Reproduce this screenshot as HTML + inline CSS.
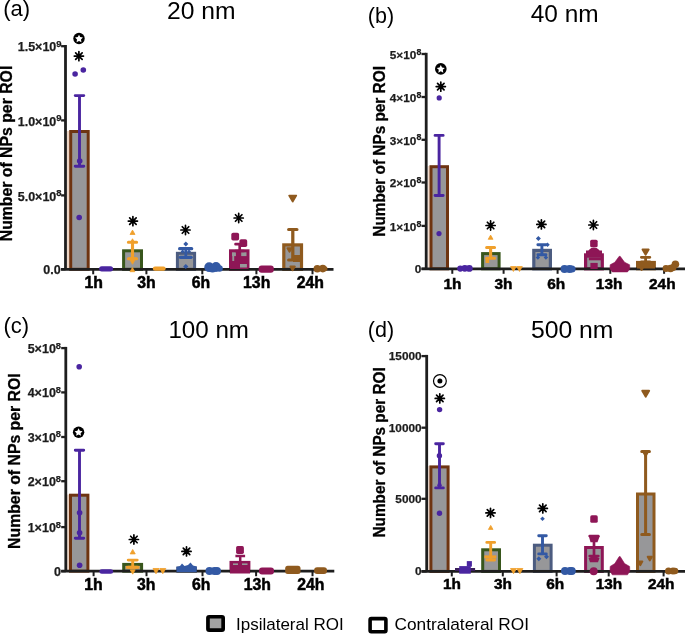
<!DOCTYPE html>
<html><head><meta charset="utf-8"><style>
html,body{margin:0;padding:0;background:#fff;}
svg{display:block;font-family:"Liberation Sans",sans-serif;filter:blur(0.3px);}
</style></head><body>
<svg width="685" height="634" viewBox="0 0 685 634">
<rect x="67.10" y="131.00" width="2.20" height="137.00" fill="#ecd3c2"/>
<rect x="70.70" y="131.50" width="17.50" height="137.80" fill="#979799" stroke="#6e3411" stroke-width="3.0"/>
<rect x="123.60" y="250.80" width="17.90" height="18.50" fill="#979799" stroke="#38561c" stroke-width="3.0"/>
<rect x="177.40" y="253.30" width="17.20" height="16.00" fill="#979799" stroke="#4c5c80" stroke-width="3.0"/>
<rect x="230.50" y="250.80" width="17.50" height="18.50" fill="#979799" stroke="#8e1656" stroke-width="3.0"/>
<rect x="283.80" y="244.90" width="17.70" height="24.40" fill="#979799" stroke="#8f5a1e" stroke-width="3.2"/>
<rect x="427.70" y="166.00" width="1.90" height="102.00" fill="#f3dccd"/>
<rect x="431.00" y="166.70" width="16.50" height="102.10" fill="#979799" stroke="#6e3411" stroke-width="3.0"/>
<rect x="482.60" y="253.60" width="16.50" height="15.20" fill="#979799" stroke="#38561c" stroke-width="3.0"/>
<rect x="533.80" y="250.40" width="16.60" height="18.40" fill="#979799" stroke="#4c5c80" stroke-width="3.2"/>
<rect x="585.60" y="254.90" width="16.70" height="13.90" fill="#979799" stroke="#8e1656" stroke-width="3.2"/>
<rect x="637.50" y="262.40" width="16.90" height="6.40" fill="#979799" stroke="#8f5a1e" stroke-width="3.0"/>
<rect x="67.20" y="494.50" width="1.90" height="75.50" fill="#ecd3c2"/>
<rect x="70.50" y="495.20" width="17.40" height="76.00" fill="#979799" stroke="#6e3411" stroke-width="3.0"/>
<rect x="123.70" y="564.40" width="17.90" height="6.80" fill="#979799" stroke="#38561c" stroke-width="3.0"/>
<rect x="177.80" y="568.00" width="17.60" height="3.20" fill="#979799" stroke="#4c5c80" stroke-width="3.0"/>
<rect x="231.00" y="562.40" width="17.90" height="8.80" fill="#979799" stroke="#8e1656" stroke-width="3.0"/>
<rect x="428.10" y="466.00" width="1.40" height="104.00" fill="#f3dccd"/>
<rect x="430.90" y="466.90" width="17.20" height="104.50" fill="#979799" stroke="#6e3411" stroke-width="3.0"/>
<rect x="482.70" y="549.80" width="16.80" height="21.60" fill="#979799" stroke="#38561c" stroke-width="3.0"/>
<rect x="534.40" y="545.20" width="16.70" height="26.20" fill="#979799" stroke="#4c5c80" stroke-width="3.0"/>
<rect x="585.60" y="547.50" width="16.70" height="23.90" fill="#979799" stroke="#8e1656" stroke-width="3.0"/>
<rect x="637.50" y="494.00" width="16.50" height="77.40" fill="#979799" stroke="#8f5a1e" stroke-width="3.0"/>
<path d="M65.50 45.00V269.30" stroke="#1e1e1e" stroke-width="2.8"/>
<path d="M61.10 269.30H333.50" stroke="#1e1e1e" stroke-width="2.7"/>
<path d="M426.20 52.80V268.80" stroke="#1e1e1e" stroke-width="2.8"/>
<path d="M421.50 268.80H685.00" stroke="#1e1e1e" stroke-width="2.7"/>
<path d="M65.80 346.90V571.20" stroke="#1e1e1e" stroke-width="2.8"/>
<path d="M61.20 571.20H334.30" stroke="#1e1e1e" stroke-width="2.7"/>
<path d="M426.70 354.90V571.40" stroke="#1e1e1e" stroke-width="2.8"/>
<path d="M421.50 571.40H685.00" stroke="#1e1e1e" stroke-width="2.7"/>
<text x="3.20" y="16.20" font-size="22" font-weight="normal" text-anchor="start" >(a)</text>
<text x="201.30" y="18.90" font-size="23.5" font-weight="normal" text-anchor="middle"  textLength="68.6" lengthAdjust="spacingAndGlyphs">20 nm</text>
<text transform="translate(11.80,153.50) rotate(-90)" x="0" y="0" font-size="15.8" font-weight="bold" text-anchor="middle" stroke="#000" stroke-width="0.3">Number of NPs per ROI</text>
<path d="M61.10 46.20H65.50" stroke="#1e1e1e" stroke-width="2.3"/>
<text x="61.60" y="51.30" font-size="12.5" font-weight="bold" text-anchor="end" fill="#1c1c1c" stroke="#1c1c1c" stroke-width="0.25">1.5×10<tspan dy="-4.6" font-size="9.5">9</tspan></text>
<path d="M61.10 120.40H65.50" stroke="#1e1e1e" stroke-width="2.3"/>
<text x="61.60" y="125.50" font-size="12.5" font-weight="bold" text-anchor="end" fill="#1c1c1c" stroke="#1c1c1c" stroke-width="0.25">1.0×10<tspan dy="-4.6" font-size="9.5">9</tspan></text>
<path d="M61.10 195.40H65.50" stroke="#1e1e1e" stroke-width="2.3"/>
<text x="61.60" y="200.50" font-size="12.5" font-weight="bold" text-anchor="end" fill="#1c1c1c" stroke="#1c1c1c" stroke-width="0.25">5.0×10<tspan dy="-4.6" font-size="9.5">8</tspan></text>
<path d="M61.10 269.30H65.50" stroke="#1e1e1e" stroke-width="2.3"/>
<text x="60.60" y="273.50" font-size="12.5" font-weight="bold" text-anchor="end" fill="#1c1c1c" stroke="#1c1c1c" stroke-width="0.25">0.0</text>
<path d="M93.20 269.30V274.30" stroke="#1e1e1e" stroke-width="2"/>
<text x="93.70" y="287.60" font-size="15.8" font-weight="bold" text-anchor="middle" stroke="#000" stroke-width="0.5">1h</text>
<path d="M146.40 269.30V274.30" stroke="#1e1e1e" stroke-width="2"/>
<text x="146.50" y="287.60" font-size="15.8" font-weight="bold" text-anchor="middle" stroke="#000" stroke-width="0.5">3h</text>
<path d="M202.30 269.30V274.30" stroke="#1e1e1e" stroke-width="2"/>
<text x="200.90" y="287.60" font-size="15.8" font-weight="bold" text-anchor="middle" stroke="#000" stroke-width="0.5">6h</text>
<path d="M256.40 269.30V274.30" stroke="#1e1e1e" stroke-width="2"/>
<text x="256.70" y="287.60" font-size="15.8" font-weight="bold" text-anchor="middle" stroke="#000" stroke-width="0.5">13h</text>
<path d="M312.50 269.30V274.30" stroke="#1e1e1e" stroke-width="2"/>
<text x="310.40" y="287.60" font-size="15.8" font-weight="bold" text-anchor="middle" stroke="#000" stroke-width="0.5">24h</text>
<path d="M79.50 95.60V166.20" stroke="#4a25a0" stroke-width="2.9120000000000004" fill="none"/>
<path d="M75.21 95.60H83.79M75.21 166.20H83.79" stroke="#4a25a0" stroke-width="2.9120000000000004" stroke-linecap="round" fill="none"/>
<circle cx="75.10" cy="74.00" r="2.8" fill="#4a25a0"/>
<circle cx="83.30" cy="70.00" r="2.8" fill="#4a25a0"/>
<circle cx="79.70" cy="161.00" r="2.8" fill="#4a25a0"/>
<circle cx="79.20" cy="217.50" r="2.8" fill="#4a25a0"/>
<circle cx="79.00" cy="38.50" r="5.7" fill="#000"/>
<polygon points="79.00,34.64 80.22,37.12 82.96,37.51 80.98,39.44 81.45,42.17 79.00,40.88 76.55,42.17 77.02,39.44 75.04,37.51 77.78,37.12" fill="#fff"/>
<path d="M78.90 51.50L78.90 60.70M82.15 52.85L75.65 59.35M83.50 56.10L74.30 56.10M82.15 59.35L75.65 52.85" stroke="#000" stroke-width="1.7" stroke-linecap="round" fill="none"/>
<rect x="99.10" y="266.20" width="14.00" height="5.20" rx="2.60" fill="#4a25a0"/>
<path d="M132.50 242.30V258.80" stroke="#f0a02c" stroke-width="3.136" fill="none"/>
<path d="M128.42 242.30H136.58M128.42 258.80H136.58" stroke="#f0a02c" stroke-width="3.136" stroke-linecap="round" fill="none"/>
<path d="M132.50 230.12L135.00 234.48L130.00 234.48Z" fill="#f0a02c" stroke="#f0a02c" stroke-width="0.8" stroke-linejoin="round"/>
<path d="M132.50 238.76L134.50 242.24L130.50 242.24Z" fill="#f0a02c" stroke="#f0a02c" stroke-width="0.8" stroke-linejoin="round"/>
<path d="M132.50 264.26L136.25 257.74L128.75 257.74Z" fill="#f0a02c" stroke="#f0a02c" stroke-width="0.8" stroke-linejoin="round"/>
<path d="M132.40 267.51L134.80 271.69L130.00 271.69Z" fill="#f0a02c" stroke="#f0a02c" stroke-width="0.8" stroke-linejoin="round"/>
<path d="M132.90 216.50L132.90 225.70M136.15 217.85L129.65 224.35M137.50 221.10L128.30 221.10M136.15 224.35L129.65 217.85" stroke="#000" stroke-width="1.7" stroke-linecap="round" fill="none"/>
<rect x="152.80" y="266.40" width="12.90" height="4.40" rx="2.20" fill="#f0a02c"/>
<path d="M185.80 248.70V257.30" stroke="#3359a4" stroke-width="2.8000000000000003" fill="none"/>
<path d="M181.20 248.70H190.40M181.20 257.30H190.40" stroke="#3359a4" stroke-width="2.8000000000000003" stroke-linecap="round" fill="none"/>
<path d="M179.6 248.7H191.7" stroke="#3359a4" stroke-width="3.2" stroke-linecap="round"/>
<path d="M180.3 257.3H191.2" stroke="#3359a4" stroke-width="3.2" stroke-linecap="round"/>
<path d="M185.80 241.50L188.30 244.00L185.80 246.50L183.30 244.00Z" fill="#3359a4"/>
<path d="M182.60 249.40L184.60 251.40L182.60 253.40L180.60 251.40Z" fill="#3359a4"/>
<path d="M189.00 249.40L191.00 251.40L189.00 253.40L187.00 251.40Z" fill="#3359a4"/>
<path d="M185.80 263.90L188.40 266.50L185.80 269.10L183.20 266.50Z" fill="#3359a4"/>
<path d="M185.50 225.40L185.50 234.60M188.75 226.75L182.25 233.25M190.10 230.00L180.90 230.00M188.75 233.25L182.25 226.75" stroke="#000" stroke-width="1.7" stroke-linecap="round" fill="none"/>
<circle cx="209.20" cy="267.20" r="4.9" fill="#3359a4"/>
<circle cx="216.00" cy="267.00" r="4.9" fill="#3359a4"/>
<circle cx="219.50" cy="268.50" r="3.3" fill="#3359a4"/>
<circle cx="212.50" cy="268.50" r="4" fill="#3359a4"/>
<rect x="230.00" y="250.00" width="18.50" height="19.00" fill="#8e1656"/>
<rect x="232.00" y="252.30" width="3.90" height="3.80" fill="#979799"/>
<rect x="241.20" y="252.30" width="5.30" height="3.80" fill="#979799"/>
<rect x="240.00" y="264.00" width="6.90" height="3.50" fill="#979799"/>
<rect x="232.30" y="256.00" width="1.90" height="5.00" fill="#979799"/>
<path d="M239.70 244.20V251.00" stroke="#8e1656" stroke-width="2.688" fill="none"/>
<path d="M235.54 244.20H243.86M235.54 251.00H243.86" stroke="#8e1656" stroke-width="2.688" stroke-linecap="round" fill="none"/>
<rect x="231.30" y="232.80" width="7.8" height="7.8" rx="1.8" fill="#8e1656"/>
<rect x="239.40" y="239.30" width="7.8" height="7.8" rx="1.8" fill="#8e1656"/>
<path d="M238.70 213.40L238.70 222.60M241.95 214.75L235.45 221.25M243.30 218.00L234.10 218.00M241.95 221.25L235.45 214.75" stroke="#000" stroke-width="1.7" stroke-linecap="round" fill="none"/>
<rect x="258.60" y="265.60" width="15.20" height="7.20" rx="3.00" fill="#8e1656"/>
<path d="M292.80 229.50V260.00" stroke="#8f5a1e" stroke-width="3.248" fill="none"/>
<path d="M288.67 229.50H296.93M288.67 260.00H296.93" stroke="#8f5a1e" stroke-width="3.248" stroke-linecap="round" fill="none"/>
<path d="M292.70 201.66L296.22 195.54L289.18 195.54Z" fill="#8f5a1e" stroke="#8f5a1e" stroke-width="1.8" stroke-linejoin="round"/>
<path d="M289.50 251.89L291.67 248.11L287.33 248.11Z" fill="#8f5a1e" stroke="#8f5a1e" stroke-width="1.8" stroke-linejoin="round"/>
<rect x="293.00" y="255.00" width="7.00" height="7.00" fill="#8f5a1e"/>
<path d="M297.00 259.67L298.92 256.33L295.08 256.33Z" fill="#8f5a1e" stroke="#8f5a1e" stroke-width="1.8" stroke-linejoin="round"/>
<path d="M292.60 270.37L294.87 266.43L290.33 266.43Z" fill="#8f5a1e" stroke="#8f5a1e" stroke-width="1.8" stroke-linejoin="round"/>
<circle cx="317.30" cy="268.80" r="3.8" fill="#8f5a1e"/>
<circle cx="322.80" cy="268.60" r="3.8" fill="#8f5a1e"/>
<circle cx="325.00" cy="268.80" r="2.5" fill="#8f5a1e"/>
<text x="367.80" y="22.50" font-size="21.5" font-weight="normal" text-anchor="start" >(b)</text>
<text x="564.70" y="22.20" font-size="23.5" font-weight="normal" text-anchor="middle"  textLength="67.9" lengthAdjust="spacingAndGlyphs">40 nm</text>
<text transform="translate(384.60,151.40) rotate(-90)" x="0" y="0" font-size="16.2" font-weight="bold" text-anchor="middle" stroke="#000" stroke-width="0.3" textLength="170.6" lengthAdjust="spacingAndGlyphs">Number of NPs per ROI</text>
<path d="M421.50 54.00H426.20" stroke="#1e1e1e" stroke-width="2.3"/>
<text x="421.30" y="58.80" font-size="11.8" font-weight="bold" text-anchor="end" fill="#1c1c1c" stroke="#1c1c1c" stroke-width="0.25">5×10<tspan dy="-4.2" font-size="8.8">8</tspan></text>
<path d="M421.50 97.00H426.20" stroke="#1e1e1e" stroke-width="2.3"/>
<text x="421.30" y="101.80" font-size="11.8" font-weight="bold" text-anchor="end" fill="#1c1c1c" stroke="#1c1c1c" stroke-width="0.25">4×10<tspan dy="-4.2" font-size="8.8">8</tspan></text>
<path d="M421.50 139.80H426.20" stroke="#1e1e1e" stroke-width="2.3"/>
<text x="421.30" y="144.60" font-size="11.8" font-weight="bold" text-anchor="end" fill="#1c1c1c" stroke="#1c1c1c" stroke-width="0.25">3×10<tspan dy="-4.2" font-size="8.8">8</tspan></text>
<path d="M421.50 182.50H426.20" stroke="#1e1e1e" stroke-width="2.3"/>
<text x="421.30" y="187.30" font-size="11.8" font-weight="bold" text-anchor="end" fill="#1c1c1c" stroke="#1c1c1c" stroke-width="0.25">2×10<tspan dy="-4.2" font-size="8.8">8</tspan></text>
<path d="M421.50 225.90H426.20" stroke="#1e1e1e" stroke-width="2.3"/>
<text x="421.30" y="230.70" font-size="11.8" font-weight="bold" text-anchor="end" fill="#1c1c1c" stroke="#1c1c1c" stroke-width="0.25">1×10<tspan dy="-4.2" font-size="8.8">8</tspan></text>
<path d="M421.50 268.80H426.20" stroke="#1e1e1e" stroke-width="2.3"/>
<text x="421.30" y="272.80" font-size="11.8" font-weight="bold" text-anchor="end" fill="#1c1c1c" stroke="#1c1c1c" stroke-width="0.25">0</text>
<path d="M452.30 268.80V273.80" stroke="#1e1e1e" stroke-width="2"/>
<text x="452.50" y="288.60" font-size="15.4" font-weight="bold" text-anchor="middle" stroke="#000" stroke-width="0.5">1h</text>
<path d="M503.60 268.80V273.80" stroke="#1e1e1e" stroke-width="2"/>
<text x="503.40" y="288.60" font-size="15.4" font-weight="bold" text-anchor="middle" stroke="#000" stroke-width="0.5">3h</text>
<path d="M557.60 268.80V273.80" stroke="#1e1e1e" stroke-width="2"/>
<text x="556.20" y="288.60" font-size="15.4" font-weight="bold" text-anchor="middle" stroke="#000" stroke-width="0.5">6h</text>
<path d="M610.30 268.80V273.80" stroke="#1e1e1e" stroke-width="2"/>
<text x="609.10" y="288.60" font-size="15.4" font-weight="bold" text-anchor="middle" stroke="#000" stroke-width="0.5">13h</text>
<path d="M664.10 268.80V273.80" stroke="#1e1e1e" stroke-width="2"/>
<text x="662.30" y="288.60" font-size="15.4" font-weight="bold" text-anchor="middle" stroke="#000" stroke-width="0.5">24h</text>
<path d="M439.10 135.40V195.50" stroke="#4a25a0" stroke-width="2.9120000000000004" fill="none"/>
<path d="M435.06 135.40H443.14M435.06 195.50H443.14" stroke="#4a25a0" stroke-width="2.9120000000000004" stroke-linecap="round" fill="none"/>
<circle cx="439.20" cy="97.90" r="2.6" fill="#4a25a0"/>
<circle cx="439.00" cy="233.60" r="2.6" fill="#4a25a0"/>
<circle cx="440.80" cy="68.90" r="5.8" fill="#000"/>
<polygon points="440.80,64.97 442.04,67.49 444.83,67.89 442.81,69.85 443.29,72.63 440.80,71.32 438.31,72.63 438.79,69.85 436.77,67.89 439.56,67.49" fill="#fff"/>
<path d="M440.80 82.00L440.80 91.20M444.05 83.35L437.55 89.85M445.40 86.60L436.20 86.60M444.05 89.85L437.55 83.35" stroke="#000" stroke-width="1.7" stroke-linecap="round" fill="none"/>
<circle cx="460.30" cy="268.60" r="3.1" fill="#4a25a0"/>
<circle cx="464.80" cy="268.30" r="3.4" fill="#4a25a0"/>
<circle cx="469.30" cy="268.40" r="3.4" fill="#4a25a0"/>
<path d="M490.60 247.50V258.20" stroke="#f0a02c" stroke-width="3.136" fill="none"/>
<path d="M486.67 247.50H494.53M486.67 258.20H494.53" stroke="#f0a02c" stroke-width="3.136" stroke-linecap="round" fill="none"/>
<path d="M490.60 235.11L493.00 239.29L488.20 239.29Z" fill="#f0a02c" stroke="#f0a02c" stroke-width="0.8" stroke-linejoin="round"/>
<path d="M490.60 220.90L490.60 230.10M493.85 222.25L487.35 228.75M495.20 225.50L486.00 225.50M493.85 228.75L487.35 222.25" stroke="#000" stroke-width="1.7" stroke-linecap="round" fill="none"/>
<rect x="485.50" y="258.00" width="3.70" height="5.00" fill="#f0a02c"/>
<path d="M513.40 271.44L516.20 266.56L510.60 266.56Z" fill="#f0a02c" stroke="#f0a02c" stroke-width="0.8" stroke-linejoin="round"/>
<path d="M519.50 271.44L522.30 266.56L516.70 266.56Z" fill="#f0a02c" stroke="#f0a02c" stroke-width="0.8" stroke-linejoin="round"/>
<path d="M541.90 244.80V254.70" stroke="#3359a4" stroke-width="2.9120000000000004" fill="none"/>
<path d="M537.86 244.80H545.94M537.86 254.70H545.94" stroke="#3359a4" stroke-width="2.9120000000000004" stroke-linecap="round" fill="none"/>
<path d="M538.40 236.00L540.90 238.50L538.40 241.00L535.90 238.50Z" fill="#3359a4"/>
<path d="M547.50 242.55L549.75 244.80L547.50 247.05L545.25 244.80Z" fill="#3359a4"/>
<path d="M537.90 255.25L540.15 257.50L537.90 259.75L535.65 257.50Z" fill="#3359a4"/>
<path d="M545.90 255.25L548.15 257.50L545.90 259.75L543.65 257.50Z" fill="#3359a4"/>
<path d="M541.40 219.80L541.40 229.00M544.65 221.15L538.15 227.65M546.00 224.40L536.80 224.40M544.65 227.65L538.15 221.15" stroke="#000" stroke-width="1.7" stroke-linecap="round" fill="none"/>
<circle cx="564.50" cy="269.00" r="4" fill="#3359a4"/>
<circle cx="569.50" cy="269.00" r="4" fill="#3359a4"/>
<circle cx="572.00" cy="269.00" r="3.6" fill="#3359a4"/>
<rect x="590.15" y="239.75" width="7.5" height="7.5" rx="1.6" fill="#8e1656"/>
<path d="M587.5 254 Q588 248 593.9 247.5 Q600 248 600.5 254Z" fill="#8e1656"/>
<rect x="586.00" y="250.50" width="16.00" height="7.20" fill="#8e1656"/>
<rect x="588.80" y="257.50" width="12.70" height="2.80" fill="#8e1656"/>
<rect x="590.40" y="262.90" width="7.30" height="6.10" fill="#8e1656"/>
<path d="M593.40 220.40L593.40 229.60M596.65 221.75L590.15 228.25M598.00 225.00L588.80 225.00M596.65 228.25L590.15 221.75" stroke="#000" stroke-width="1.7" stroke-linecap="round" fill="none"/>
<polygon points="619.20,256.33 620.20,256.33 624.60,262.32 629.60,264.72 629.80,268.66 627.50,271.91 612.30,271.91 610.00,268.66 610.20,264.72 614.80,262.32" fill="#8e1656" stroke="#8e1656" stroke-width="0.6" stroke-linejoin="round"/>
<rect x="637.00" y="261.00" width="18.00" height="7.50" fill="#8f5a1e"/>
<path d="M645.60 257.30V262.00" stroke="#8f5a1e" stroke-width="2.8000000000000003" fill="none"/>
<path d="M641.35 257.30H649.85M641.35 262.00H649.85" stroke="#8f5a1e" stroke-width="2.8000000000000003" stroke-linecap="round" fill="none"/>
<path d="M645.60 254.91L648.72 249.49L642.48 249.49Z" fill="#8f5a1e" stroke="#8f5a1e" stroke-width="1.8" stroke-linejoin="round"/>
<path d="M641.60 269.95L643.27 267.05L639.93 267.05Z" fill="#8f5a1e" stroke="#8f5a1e" stroke-width="1.8" stroke-linejoin="round"/>
<circle cx="666.00" cy="268.50" r="3.4" fill="#8f5a1e"/>
<circle cx="670.50" cy="268.50" r="3.8" fill="#8f5a1e"/>
<circle cx="675.40" cy="264.30" r="3.8" fill="#8f5a1e"/>
<circle cx="673.00" cy="267.50" r="3.5" fill="#8f5a1e"/>
<text x="3.50" y="333.30" font-size="22" font-weight="normal" text-anchor="start" >(c)</text>
<text x="208.70" y="337.60" font-size="23.5" font-weight="normal" text-anchor="middle"  textLength="80.5" lengthAdjust="spacingAndGlyphs">100 nm</text>
<text transform="translate(19.90,461.10) rotate(-90)" x="0" y="0" font-size="15.8" font-weight="bold" text-anchor="middle" stroke="#000" stroke-width="0.3">Number of NPs per ROI</text>
<path d="M61.20 348.10H65.80" stroke="#1e1e1e" stroke-width="2.3"/>
<text x="61.00" y="353.10" font-size="12.5" font-weight="bold" text-anchor="end" fill="#1c1c1c" stroke="#1c1c1c" stroke-width="0.25">5×10<tspan dy="-4.6" font-size="9.3">8</tspan></text>
<path d="M61.20 392.40H65.80" stroke="#1e1e1e" stroke-width="2.3"/>
<text x="61.00" y="397.40" font-size="12.5" font-weight="bold" text-anchor="end" fill="#1c1c1c" stroke="#1c1c1c" stroke-width="0.25">4×10<tspan dy="-4.6" font-size="9.3">8</tspan></text>
<path d="M61.20 437.00H65.80" stroke="#1e1e1e" stroke-width="2.3"/>
<text x="61.00" y="442.00" font-size="12.5" font-weight="bold" text-anchor="end" fill="#1c1c1c" stroke="#1c1c1c" stroke-width="0.25">3×10<tspan dy="-4.6" font-size="9.3">8</tspan></text>
<path d="M61.20 481.20H65.80" stroke="#1e1e1e" stroke-width="2.3"/>
<text x="61.00" y="486.20" font-size="12.5" font-weight="bold" text-anchor="end" fill="#1c1c1c" stroke="#1c1c1c" stroke-width="0.25">2×10<tspan dy="-4.6" font-size="9.3">8</tspan></text>
<path d="M61.20 527.10H65.80" stroke="#1e1e1e" stroke-width="2.3"/>
<text x="61.00" y="532.10" font-size="12.5" font-weight="bold" text-anchor="end" fill="#1c1c1c" stroke="#1c1c1c" stroke-width="0.25">1×10<tspan dy="-4.6" font-size="9.3">8</tspan></text>
<path d="M61.20 571.20H65.80" stroke="#1e1e1e" stroke-width="2.3"/>
<text x="61.00" y="575.50" font-size="12.5" font-weight="bold" text-anchor="end" fill="#1c1c1c" stroke="#1c1c1c" stroke-width="0.25">0</text>
<path d="M93.60 571.20V576.20" stroke="#1e1e1e" stroke-width="2"/>
<text x="93.50" y="590.00" font-size="15.8" font-weight="bold" text-anchor="middle" stroke="#000" stroke-width="0.5">1h</text>
<path d="M146.50 571.20V576.20" stroke="#1e1e1e" stroke-width="2"/>
<text x="146.20" y="590.00" font-size="15.8" font-weight="bold" text-anchor="middle" stroke="#000" stroke-width="0.5">3h</text>
<path d="M202.50 571.20V576.20" stroke="#1e1e1e" stroke-width="2"/>
<text x="201.30" y="590.00" font-size="15.8" font-weight="bold" text-anchor="middle" stroke="#000" stroke-width="0.5">6h</text>
<path d="M256.10 571.20V576.20" stroke="#1e1e1e" stroke-width="2"/>
<text x="257.40" y="590.00" font-size="15.8" font-weight="bold" text-anchor="middle" stroke="#000" stroke-width="0.5">13h</text>
<path d="M312.50 571.20V576.20" stroke="#1e1e1e" stroke-width="2"/>
<text x="310.90" y="590.00" font-size="15.8" font-weight="bold" text-anchor="middle" stroke="#000" stroke-width="0.5">24h</text>
<path d="M79.50 450.30V538.20" stroke="#4a25a0" stroke-width="2.9120000000000004" fill="none"/>
<path d="M75.31 450.30H83.69M75.31 538.20H83.69" stroke="#4a25a0" stroke-width="2.9120000000000004" stroke-linecap="round" fill="none"/>
<circle cx="79.20" cy="366.80" r="2.8" fill="#4a25a0"/>
<circle cx="79.60" cy="512.70" r="2.8" fill="#4a25a0"/>
<circle cx="79.60" cy="532.70" r="2.8" fill="#4a25a0"/>
<circle cx="79.60" cy="565.20" r="2.8" fill="#4a25a0"/>
<circle cx="78.60" cy="432.20" r="5.7" fill="#000"/>
<polygon points="78.60,428.34 79.82,430.82 82.56,431.21 80.58,433.14 81.05,435.87 78.60,434.58 76.15,435.87 76.62,433.14 74.64,431.21 77.38,430.82" fill="#fff"/>
<rect x="99.40" y="569.20" width="13.80" height="4.60" rx="2.30" fill="#4a25a0"/>
<path d="M132.70 560.10V567.30" stroke="#f0a02c" stroke-width="2.9120000000000004" fill="none"/>
<path d="M128.21 560.10H137.19M128.21 567.30H137.19" stroke="#f0a02c" stroke-width="2.9120000000000004" stroke-linecap="round" fill="none"/>
<path d="M125.8 567.3H139.5" stroke="#f0a02c" stroke-width="2.8"/>
<path d="M132.70 549.48L135.25 553.92L130.15 553.92Z" fill="#f0a02c" stroke="#f0a02c" stroke-width="0.8" stroke-linejoin="round"/>
<path d="M132.70 574.17L135.20 569.83L130.20 569.83Z" fill="#f0a02c" stroke="#f0a02c" stroke-width="0.8" stroke-linejoin="round"/>
<path d="M133.90 534.90L133.90 544.10M137.15 536.25L130.65 542.75M138.50 539.50L129.30 539.50M137.15 542.75L130.65 536.25" stroke="#000" stroke-width="1.7" stroke-linecap="round" fill="none"/>
<path d="M156.00 573.71L159.00 568.49L153.00 568.49Z" fill="#f0a02c" stroke="#f0a02c" stroke-width="0.8" stroke-linejoin="round"/>
<path d="M162.80 573.71L165.80 568.49L159.80 568.49Z" fill="#f0a02c" stroke="#f0a02c" stroke-width="0.8" stroke-linejoin="round"/>
<path d="M176.5 572 L176.5 567 L180 566 L182 563.5 L184.5 566 L188 565 L190.5 562.5 L193 565.5 L196.7 566.5 L196.7 572Z" fill="#3359a4"/>
<path d="M186.50 546.80L186.50 556.00M189.75 548.15L183.25 554.65M191.10 551.40L181.90 551.40M189.75 554.65L183.25 548.15" stroke="#000" stroke-width="1.7" stroke-linecap="round" fill="none"/>
<circle cx="209.50" cy="570.90" r="4" fill="#3359a4"/>
<circle cx="214.50" cy="570.90" r="4" fill="#3359a4"/>
<circle cx="217.00" cy="570.90" r="4" fill="#3359a4"/>
<rect x="230.00" y="561.00" width="20.00" height="12.50" fill="#8e1656"/>
<rect x="233.00" y="563.40" width="5.00" height="1.60" fill="#979799"/>
<rect x="242.00" y="563.40" width="5.50" height="1.60" fill="#979799"/>
<rect x="236.10" y="546.10" width="7.8" height="7.8" rx="1.6" fill="#8e1656"/>
<path d="M235.4 556.1H245.1M240.2 556.1V561" stroke="#8e1656" stroke-width="2.5"/>
<rect x="259.00" y="567.60" width="15.00" height="6.90" rx="3.00" fill="#8e1656"/>
<rect x="285.20" y="565.70" width="15.30" height="8.30" rx="2.50" fill="#8f5a1e"/>
<rect x="314.10" y="567.30" width="12.90" height="6.70" rx="3.00" fill="#8f5a1e"/>
<text x="367.80" y="337.40" font-size="21.5" font-weight="normal" text-anchor="start" >(d)</text>
<text x="572.20" y="337.60" font-size="23.5" font-weight="normal" text-anchor="middle"  textLength="82.6" lengthAdjust="spacingAndGlyphs">500 nm</text>
<text transform="translate(385.00,452.40) rotate(-90)" x="0" y="0" font-size="16.2" font-weight="bold" text-anchor="middle" stroke="#000" stroke-width="0.3" textLength="170.1" lengthAdjust="spacingAndGlyphs">Number of NPs per ROI</text>
<path d="M421.50 356.10H426.70" stroke="#1e1e1e" stroke-width="2.3"/>
<text x="421.60" y="360.00" font-size="11.8" font-weight="bold" text-anchor="end" fill="#1c1c1c" stroke="#1c1c1c" stroke-width="0.25">15000</text>
<path d="M421.50 427.70H426.70" stroke="#1e1e1e" stroke-width="2.3"/>
<text x="421.60" y="431.60" font-size="11.8" font-weight="bold" text-anchor="end" fill="#1c1c1c" stroke="#1c1c1c" stroke-width="0.25">10000</text>
<path d="M421.50 498.80H426.70" stroke="#1e1e1e" stroke-width="2.3"/>
<text x="421.60" y="502.70" font-size="11.8" font-weight="bold" text-anchor="end" fill="#1c1c1c" stroke="#1c1c1c" stroke-width="0.25">5000</text>
<path d="M421.50 571.40H426.70" stroke="#1e1e1e" stroke-width="2.3"/>
<text x="421.60" y="575.30" font-size="11.8" font-weight="bold" text-anchor="end" fill="#1c1c1c" stroke="#1c1c1c" stroke-width="0.25">0</text>
<path d="M451.80 571.40V576.40" stroke="#1e1e1e" stroke-width="2"/>
<text x="451.90" y="588.70" font-size="15.4" font-weight="bold" text-anchor="middle" stroke="#000" stroke-width="0.5">1h</text>
<path d="M502.80 571.40V576.40" stroke="#1e1e1e" stroke-width="2"/>
<text x="503.00" y="588.70" font-size="15.4" font-weight="bold" text-anchor="middle" stroke="#000" stroke-width="0.5">3h</text>
<path d="M556.60 571.40V576.40" stroke="#1e1e1e" stroke-width="2"/>
<text x="555.30" y="588.70" font-size="15.4" font-weight="bold" text-anchor="middle" stroke="#000" stroke-width="0.5">6h</text>
<path d="M608.70 571.40V576.40" stroke="#1e1e1e" stroke-width="2"/>
<text x="609.00" y="588.70" font-size="15.4" font-weight="bold" text-anchor="middle" stroke="#000" stroke-width="0.5">13h</text>
<path d="M663.60 571.40V576.40" stroke="#1e1e1e" stroke-width="2"/>
<text x="661.20" y="588.70" font-size="15.4" font-weight="bold" text-anchor="middle" stroke="#000" stroke-width="0.5">24h</text>
<path d="M439.50 443.70V487.90" stroke="#4a25a0" stroke-width="2.9120000000000004" fill="none"/>
<path d="M435.66 443.70H443.34M435.66 487.90H443.34" stroke="#4a25a0" stroke-width="2.9120000000000004" stroke-linecap="round" fill="none"/>
<circle cx="439.60" cy="409.60" r="2.7" fill="#4a25a0"/>
<circle cx="439.40" cy="455.80" r="2.7" fill="#4a25a0"/>
<circle cx="439.50" cy="513.20" r="2.7" fill="#4a25a0"/>
<circle cx="439.50" cy="485.30" r="2.2" fill="#4a25a0"/>
<circle cx="439.90" cy="381.00" r="6.4" fill="none" stroke="#000" stroke-width="1.2"/>
<circle cx="439.90" cy="381.00" r="2.5" fill="#000"/>
<path d="M439.80 393.80L439.80 403.00M443.05 395.15L436.55 401.65M444.40 398.40L435.20 398.40M443.05 401.65L436.55 395.15" stroke="#000" stroke-width="1.7" stroke-linecap="round" fill="none"/>
<rect x="455.00" y="568.00" width="20.10" height="3.00" fill="#3a1f5a"/>
<rect x="459.20" y="566.10" width="11.60" height="7.60" fill="#4a25a0"/>
<rect x="466.80" y="561.10" width="5.10" height="5.50" fill="#4a25a0"/>
<path d="M490.70 542.40V560.00" stroke="#f0a02c" stroke-width="2.9120000000000004" fill="none"/>
<path d="M486.81 542.40H494.59M486.81 560.00H494.59" stroke="#f0a02c" stroke-width="2.9120000000000004" stroke-linecap="round" fill="none"/>
<rect x="484.40" y="555.40" width="11.90" height="3.00" fill="#f0a02c"/>
<path d="M490.70 525.40L493.00 529.40L488.40 529.40Z" fill="#f0a02c" stroke="#f0a02c" stroke-width="0.8" stroke-linejoin="round"/>
<path d="M490.50 508.30L490.50 517.50M493.75 509.65L487.25 516.15M495.10 512.90L485.90 512.90M493.75 516.15L487.25 509.65" stroke="#000" stroke-width="1.7" stroke-linecap="round" fill="none"/>
<path d="M513.50 573.71L516.50 568.49L510.50 568.49Z" fill="#f0a02c" stroke="#f0a02c" stroke-width="0.8" stroke-linejoin="round"/>
<path d="M519.90 573.71L522.90 568.49L516.90 568.49Z" fill="#f0a02c" stroke="#f0a02c" stroke-width="0.8" stroke-linejoin="round"/>
<path d="M542.50 535.70V553.90" stroke="#3359a4" stroke-width="2.9120000000000004" fill="none"/>
<path d="M538.71 535.70H546.29M538.71 553.90H546.29" stroke="#3359a4" stroke-width="2.9120000000000004" stroke-linecap="round" fill="none"/>
<path d="M542.50 516.40L544.80 518.70L542.50 521.00L540.20 518.70Z" fill="#3359a4"/>
<path d="M542.80 503.80L542.80 513.00M546.05 505.15L539.55 511.65M547.40 508.40L538.20 508.40M546.05 511.65L539.55 505.15" stroke="#000" stroke-width="1.7" stroke-linecap="round" fill="none"/>
<path d="M538.80 556.30L541.30 558.80L538.80 561.30L536.30 558.80Z" fill="#3359a4"/>
<path d="M546.50 554.30L549.00 556.80L546.50 559.30L544.00 556.80Z" fill="#3359a4"/>
<circle cx="565.00" cy="571.00" r="4" fill="#3359a4"/>
<circle cx="570.00" cy="571.00" r="4" fill="#3359a4"/>
<circle cx="571.80" cy="571.00" r="4" fill="#3359a4"/>
<rect x="590.25" y="515.35" width="7.5" height="7.5" rx="1.6" fill="#8e1656"/>
<path d="M594.00 536.00V556.00" stroke="#8e1656" stroke-width="2.688" fill="none"/>
<path d="M589.69 536.00H598.31M589.69 556.00H598.31" stroke="#8e1656" stroke-width="2.688" stroke-linecap="round" fill="none"/>
<path d="M588.8 536 L599.8 536 L597.5 542.2 L590.5 542.2Z" fill="#8e1656"/>
<path d="M594 555.8 L599.5 558 L598 562.2 L590 562.2 L588.6 558Z" fill="#8e1656"/>
<circle cx="593.70" cy="571.20" r="4" fill="#8e1656"/>
<polygon points="619.20,556.60 620.20,556.60 624.60,563.60 629.60,566.40 629.80,571.00 627.50,574.80 612.30,574.80 610.00,571.00 610.20,566.40 614.80,563.60" fill="#8e1656" stroke="#8e1656" stroke-width="0.6" stroke-linejoin="round"/>
<path d="M645.60 451.40V534.50" stroke="#8f5a1e" stroke-width="3.0240000000000005" fill="none"/>
<path d="M641.76 451.40H649.44M641.76 534.50H649.44" stroke="#8f5a1e" stroke-width="3.0240000000000005" stroke-linecap="round" fill="none"/>
<path d="M645.70 396.86L649.22 390.74L642.18 390.74Z" fill="#8f5a1e" stroke="#8f5a1e" stroke-width="1.8" stroke-linejoin="round"/>
<path d="M645.60 456.17L648.32 451.43L642.88 451.43Z" fill="#8f5a1e" stroke="#8f5a1e" stroke-width="1.8" stroke-linejoin="round"/>
<path d="M640.30 565.19L642.47 561.41L638.13 561.41Z" fill="#8f5a1e" stroke="#8f5a1e" stroke-width="1.8" stroke-linejoin="round"/>
<path d="M649.80 560.49L651.97 556.71L647.63 556.71Z" fill="#8f5a1e" stroke="#8f5a1e" stroke-width="1.8" stroke-linejoin="round"/>
<circle cx="668.50" cy="571.00" r="3.5" fill="#8f5a1e"/>
<circle cx="673.00" cy="571.00" r="3.5" fill="#8f5a1e"/>
<circle cx="675.00" cy="571.00" r="3.3" fill="#8f5a1e"/>
<rect x="207.95" y="616.75" width="15.20" height="13.40" rx="1.2" fill="#a2a2a2" stroke="#000" stroke-width="3.7"/>
<text x="236.00" y="630.40" font-size="17" font-weight="normal" text-anchor="start" >Ipsilateral ROI</text>
<rect x="370.10" y="618.60" width="15.80" height="13.10" rx="1.2" fill="#fff" stroke="#000" stroke-width="3.6"/>
<text x="394.50" y="630.40" font-size="17" font-weight="normal" text-anchor="start"  textLength="134.5" lengthAdjust="spacingAndGlyphs">Contralateral ROI</text>
</svg>
</body></html>
